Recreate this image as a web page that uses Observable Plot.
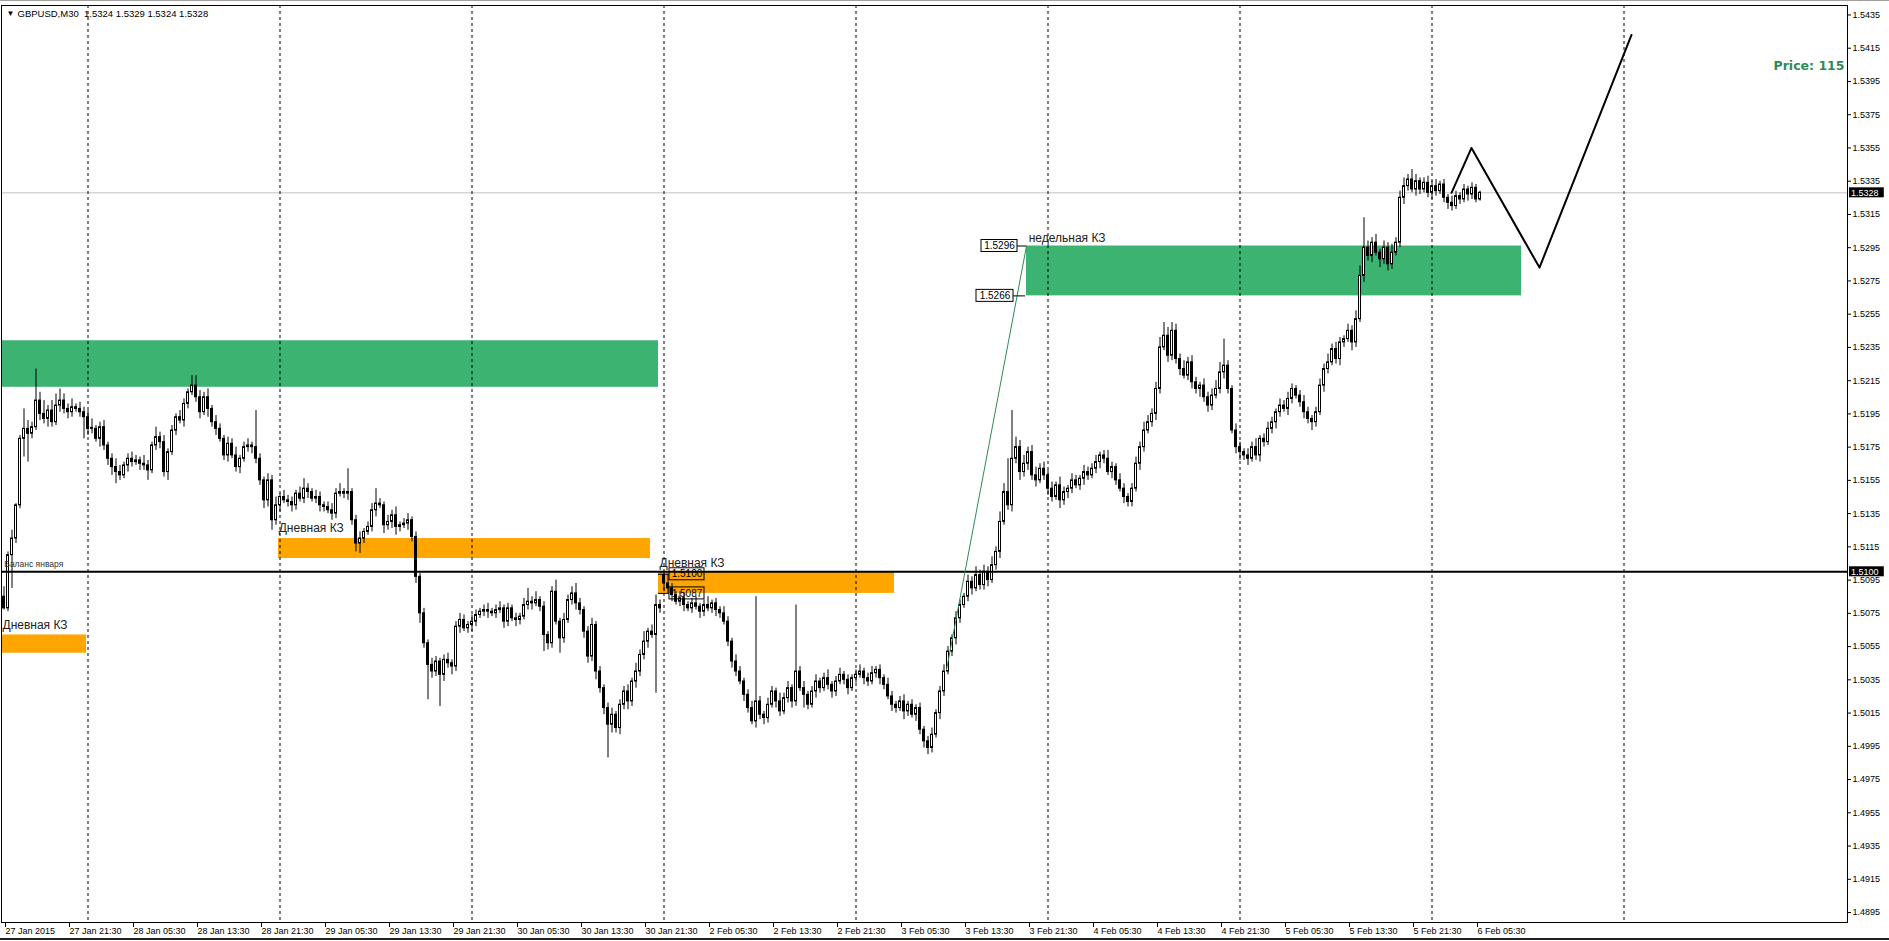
<!DOCTYPE html>
<html><head><meta charset="utf-8">
<script src="https://cdn.jsdelivr.net/npm/d3@7"></script>
<script src="https://cdn.jsdelivr.net/npm/@observablehq/plot@0.6"></script>
<style>html,body{margin:0;padding:0;background:#fff;overflow:hidden}
#chart{position:relative;width:1889px;height:941px}
#topline{position:absolute;left:0;top:0;width:1889px;height:1px;background:#a0a0a0}
#botline{position:absolute;left:0;top:938px;width:1889px;height:2px;background:#222}
</style>
</head><body><div id="chart"><div id="topline"></div><div id="botline"></div></div>
<script>
// GBPUSD M30 candles, prices x10000; bar 0 = 27 Jan 13:30, 30-min bars
const firstOpen = 15085;
const mondayGapBar = 165, mondayOpen = 15098;
const closeP = [
15078,15110,15120,15140,15180,15186,15183,15187,15203,15195,15192,15197,15190,15200,15203,15198,
15196,15199,15198,15196,15193,15186,15186,15180,15187,15176,15168,15163,15160,15158,15164,15168,
15166,15167,15165,15164,15161,15176,15181,15178,15160,15172,15185,15193,15191,15201,15208,15212,
15205,15196,15205,15198,15190,15186,15180,15170,15177,15170,15163,15168,15175,15176,15175,15168,
15155,15143,15155,15131,15140,15145,15143,15142,15140,15147,15144,15150,15148,15144,15145,15140,
15139,15137,15135,15147,15148,15147,15148,15131,15117,15120,15124,15127,15137,15141,15140,15128,
15130,15134,15127,15128,15129,15131,15121,15097,15075,15057,15044,15040,15046,15038,15047,15045,
15043,15067,15071,15066,15068,15070,15074,15076,15077,15076,15075,15077,15078,15070,15078,15072,
15071,15073,15080,15082,15081,15083,15079,15062,15057,15088,15070,15060,15071,15083,15087,15081,
15077,15064,15049,15068,15040,15030,15018,15008,15014,15006,15020,15028,15022,15034,15040,15050,
15058,15064,15062,15080,15078,
15093,15090,15086,15082,15084,15080,15078,15081,15079,15076,15080,15078,15081,15077,15075,15070,
15058,15046,15040,15034,15026,15018,15010,15022,15014,15012,15020,15028,15022,15016,15024,15030,
15022,15040,15030,15026,15020,15028,15034,15030,15036,15032,15028,15034,15038,15035,15030,15036,
15038,15040,15036,15034,15039,15041,15036,15032,15025,15020,15018,15022,15016,15020,15014,15018,
15005,14998,14994,15002,15015,15028,15040,15052,15060,15072,15080,15085,15094,15090,15098,15092,
15100,15095,15104,15112,15130,15148,15140,15168,15175,15160,15165,15172,15158,15155,15162,15158,
15150,15145,15152,15143,15148,15150,15155,15152,15156,15160,15158,15162,15166,15170,15168,15160,
15163,15155,15150,15145,15142,15150,15165,15175,15185,15190,15195,15210,15235,15242,15230,15245,
15228,15222,15218,15226,15214,15210,15212,15205,15200,15206,15210,15220,15224,15210,15185,15175,
15172,15170,15168,15175,15170,15180,15178,15186,15190,15196,15200,15198,15204,15210,15206,15202,
15196,15192,15190,15196,15212,15222,15226,15234,15228,15238,15240,15245,15238,15252,15278,15295,
15290,15298,15292,15288,15295,15285,15292,15298,15325,15332,15336,15330,15335,15330,15334,15328,
15332,15329,15333,15325,15322,15320,15326,15324,15330,15327,15331,15324,15328];
// upper wick length above body (pips)
const wickUp = [
6,2,5,1,2,12,5,3,19,5,8,3,6,7,7,4, 3,5,2,4,3,4,6,2,3,4,2,3,5,4,2,3,
4,3,2,5,3,2,6,3,4,2,3,2,4,3,2,6, 6,4,3,5,2,4,3,2,4,3,5,2,3,4,2,22,
3,2,4,3,5,2,4,3,3,2,4,6,3,2,4,3, 2,3,4,3,5,2,14,2,3,4,2,3,4,9,3,2,
4,3,5,2,3,4,2,3,2,3,2,4,3,2,3,4, 2,3,4,3,2,4,3,2,3,4,2,3,4,2,3,2,
3,2,4,8,3,5,2,3,2,3,7,2,4,3,4,6, 3,2,3,4,2,3,2,3,4,2,3,3,4,2,5,3,
6,2,4,6,3,
2,5,3,2,4,3,2,3,4,2,3,5,2,3,2,4, 3,2,4,3,2,3,4,63,3,2,4,3,2,5,3,4,
2,40,3,4,2,3,4,2,3,5,2,3,4,2,3,2, 3,4,2,3,4,2,3,2,4,3,2,3,4,2,3,2,
3,2,3,4,2,3,4,3,2,4,3,2,4,3,5,3, 4,3,5,3,6,5,20,29,6,4,5,3,4,5,3,4,
3,4,2,5,3,2,4,3,2,4,3,3,4,2,3,5, 3,2,4,3,2,3,4,3,5,4,3,4,6,8,5,5,
4,3,5,3,4,3,2,4,3,4,5,6,16,3,2,4, 3,2,4,3,5,2,3,4,3,2,4,3,4,3,2,3,
4,3,2,3,4,3,5,3,4,3,2,4,3,5,6,18, 4,3,5,2,4,3,5,3,4,5,3,6,4,2,3,4,
3,4,2,3,2,4,3,2,3,2,3,2,1];
// lower wick length below body (pips)
const wickDn = [
1,2,20,3,2,11,17,3,2,4,3,5,3,2,4,3, 4,3,2,3,13,4,3,2,5,3,4,5,7,3,2,4,
3,2,4,3,6,2,3,4,3,5,2,3,2,4,3,2, 3,4,2,5,3,4,2,3,4,2,3,4,2,3,4,3,
3,5,4,6,3,4,2,3,4,3,2,3,4,2,3,4, 3,2,4,3,2,3,4,3,5,6,3,2,3,4,2,5,
3,4,5,3,2,4,3,4,6,3,21,4,3,19,4,3, 5,3,4,2,3,4,3,2,3,4,2,3,2,4,3,2,
4,3,2,3,4,2,3,10,4,3,2,9,3,2,3,4, 3,4,4,3,5,3,4,20,5,3,4,3,5,3,4,3,
3,4,2,35,3,
5,3,4,2,3,4,2,3,2,4,3,2,3,4,3,2, 3,4,3,2,4,3,2,4,3,4,3,2,4,3,2,3,
4,3,2,8,3,2,4,3,2,3,4,3,2,3,4,2, 3,2,4,3,2,3,4,3,2,4,3,2,5,3,2,4,
3,4,4,3,2,4,3,2,3,4,3,2,3,4,2,3, 3,4,2,3,4,2,3,4,3,5,3,4,3,4,2,3,
4,3,2,5,3,4,3,2,3,4,3,2,3,4,3,2, 4,3,2,4,3,3,2,4,3,2,3,4,3,2,4,3,
3,4,2,3,4,3,5,3,4,3,2,3,4,3,2,4, 5,3,4,2,3,4,3,2,3,4,3,2,4,3,2,3,
4,3,5,3,2,4,3,2,3,4,3,2,5,3,2,4, 3,4,2,5,3,4,3,2,3,4,3,2,4,3,2,3,
4,3,2,3,4,3,2,3,2,4,3,2,1];

const timeTicks = [0,16,32,48,64,80,96,112,128,144,160,176,192,208,224,240,256,272,288,304,320,336,352,368];
const timeLabels = ["27 Jan 2015","27 Jan 21:30","28 Jan 05:30","28 Jan 13:30","28 Jan 21:30","29 Jan 05:30","29 Jan 13:30","29 Jan 21:30","30 Jan 05:30","30 Jan 13:30","30 Jan 21:30","2 Feb 05:30","2 Feb 13:30","2 Feb 21:30","3 Feb 05:30","3 Feb 13:30","3 Feb 21:30","4 Feb 05:30","4 Feb 13:30","4 Feb 21:30","5 Feb 05:30","5 Feb 13:30","5 Feb 21:30","6 Feb 05:30"];
const dayStartBars = [21,69,117,165,213,261,309,357,405];
const priceTicks = [1.4895,1.4915,1.4935,1.4955,1.4975,1.4995,1.5015,1.5035,1.5055,1.5075,1.5095,1.5115,1.5135,1.5155,1.5175,1.5195,1.5215,1.5235,1.5255,1.5275,1.5295,1.5315,1.5335,1.5355,1.5375,1.5395,1.5415,1.5435];

const lastPrice = 1.5328;
const balanceLevel = 1.5100;
const zoneGreen1 = [1.5211, 1.5239];
const zoneOrange1 = [1.5051, 1.5062];
const zoneOrange2 = [1.5108, 1.5120];
const zoneOrange3 = [1.5087, 1.5100];
const zoneGreenWeekly = [1.5266, 1.5296];
const forecastBars = [362, 367, 384, 407];
const forecastPrices = [1.5328, 1.5355, 1.5283, 1.5423];
const trendBars = [235.75, 255.75];
const trendPrices = [1.5041, 1.5296];

// ---- build table
const bars = closeP.map((c, i) => {
  const o = i === 0 ? firstOpen : (i === mondayGapBar ? mondayOpen : closeP[i - 1]);
  const top = Math.max(o, c), bot = Math.min(o, c);
  return {i, o: o / 1e4, c: c / 1e4, h: (top + wickUp[i]) / 1e4, l: (bot - wickDn[i]) / 1e4,
          top: top / 1e4, bot: bot / 1e4, bull: c >= o};
});
const labelOf = new Map(timeTicks.map((t, k) => [t, timeLabels[k]]));
const PX = 1 / 16620; // one pixel in price units (for text/box sizing)

const green = "#3cb371", orange = "#ffa500";
const zones = [
  {x1: -0.5, x2: 163.75, y: zoneGreen1, fill: green},
  {x1: -0.5, x2: 20.75, y: zoneOrange1, fill: orange},
  {x1: 68.75, x2: 161.75, y: zoneOrange2, fill: orange},
  {x1: 163.75, x2: 222.75, y: zoneOrange3, fill: orange},
  {x1: 255.75, x2: 379.5, y: zoneGreenWeekly, fill: green}
];
const zoneTexts = [
  {x: -0.25, y: 1.5068, t: "Дневная КЗ"},
  {x: 68.8, y: 1.5126, t: "Дневная КЗ"},
  {x: 164, y: 1.5105, t: "Дневная КЗ"},
  {x: 256.3, y: 1.5301, t: "недельная КЗ"}
];
const priceBoxes = [
  {t: "1.5296", p: 1.5296, x1: 244.5, x2: 253.5, lead: 255.75},
  {t: "1.5266", p: 1.5266, x1: 243.25, x2: 252.5, lead: 255.5},
  {t: "1.5100", p: 1.50985, x1: 166.5, x2: 175.25, lead: 163.75},
  {t: "1.5087", p: 1.5087, x1: 166.5, x2: 175.25, lead: 163.75}
];

const font = "Liberation Sans, Arial, sans-serif";
const chart = Plot.plot({
  width: 1889, height: 941,
  marginLeft: 1, marginRight: 42, marginTop: 5, marginBottom: 19,
  x: {domain: [-0.5, 461]},
  y: {domain: [1.4889, 1.54407]},
  style: {fontFamily: font, fontSize: "9px", background: "transparent", overflow: "visible", color: "#000"},
  marks: [
    Plot.rect(zones, {x1: "x1", x2: "x2", y1: d => d.y[0], y2: d => d.y[1], fill: "fill"}),
    Plot.ruleY([lastPrice], {stroke: "#c0c0c0", strokeWidth: 1}),
    Plot.ruleX(dayStartBars, {dx: 0.5, stroke: "#000", strokeDasharray: "3,3", strokeWidth: 1}),
    Plot.ruleX(bars, {x: "i", y1: "l", y2: "h", dx: 0.5, stroke: "#000", strokeWidth: 1}),
    Plot.rect(bars, {x1: d => d.i - 0.25, x2: d => d.i + 0.25, dx: 0.5,
      y1: "bot", y2: d => d.top - d.bot < PX ? d.bot + PX : d.top,
      fill: d => d.bull ? "#fff" : "#000", stroke: "#000", strokeWidth: 1}),
    Plot.ruleY([balanceLevel], {stroke: "#000", strokeWidth: 2}),
    Plot.line(trendBars.map((b, k) => ({b, p: trendPrices[k]})), {x: "b", y: "p", stroke: "#2e8b57", strokeWidth: 1}),
    Plot.line(forecastBars.map((b, k) => ({b, p: forecastPrices[k]})), {x: "b", y: "p", stroke: "#000", strokeWidth: 2}),
    // zone labels
    Plot.text(zoneTexts, {x: "x", y: "y", text: "t", textAnchor: "start", fontSize: 12, fill: "#222"}),
    Plot.text([{x: 0.2, y: 1.51045}], {x: "x", y: "y", text: () => "Баланс января", textAnchor: "start", fontSize: 8.5, fill: "#333"}),
    // price boxes with leaders
    Plot.ruleY(priceBoxes, {y: "p", x1: d => Math.min(d.x2, d.lead), x2: d => Math.max(d.x1, d.lead), stroke: "#000"}),
    Plot.rect(priceBoxes, {x1: "x1", x2: "x2", y1: d => d.p - 6 * PX, y2: d => d.p + 6 * PX, fill: "none", stroke: "#000"}),
    Plot.text(priceBoxes, {x: d => (d.x1 + d.x2) / 2, y: "p", text: "t", fontSize: 10, fill: "#000"}),
    // header
    Plot.text([0], {frameAnchor: "top-left", dx: 16, dy: 5, text: () => "GBPUSD,M30  1.5324 1.5329 1.5324 1.5328", textAnchor: "start", fontSize: 9.5, fill: "#000"}),
    Plot.text([0], {frameAnchor: "top-left", dx: 5, dy: 5, text: () => "▼", textAnchor: "start", fontSize: 8, fill: "#000"}),
    Plot.text([0], {frameAnchor: "top-right", dx: -3, dy: 56, text: () => "Price: 115", textAnchor: "end", fontSize: 12.5, fontWeight: "bold", fontFamily: "DejaVu Sans, sans-serif", fill: "#2e8b57"}),
    // axes
    Plot.axisY(priceTicks, {anchor: "right", tickFormat: d => d.toFixed(4), tickSize: 3, tickPadding: 2, fontSize: 9}),
    Plot.axisX(timeTicks, {anchor: "bottom", tickFormat: d => labelOf.get(d), textAnchor: "start", tickSize: 5, tickPadding: 0, dx: 2, fontSize: 9}),
    // right-axis price boxes
    Plot.rect([lastPrice, balanceLevel], {x1: 461.5, x2: 470.2, y1: d => d - 5 * PX, y2: d => d + 5 * PX, fill: "#000"}),
    Plot.text([lastPrice, balanceLevel], {x: 461.9, y: d => d, text: d => d.toFixed(4), textAnchor: "start", fontSize: 9, fill: "#fff"}),
    Plot.frame({stroke: "#000"})
  ]
});
document.getElementById("chart").prepend(chart);
</script></body></html>
